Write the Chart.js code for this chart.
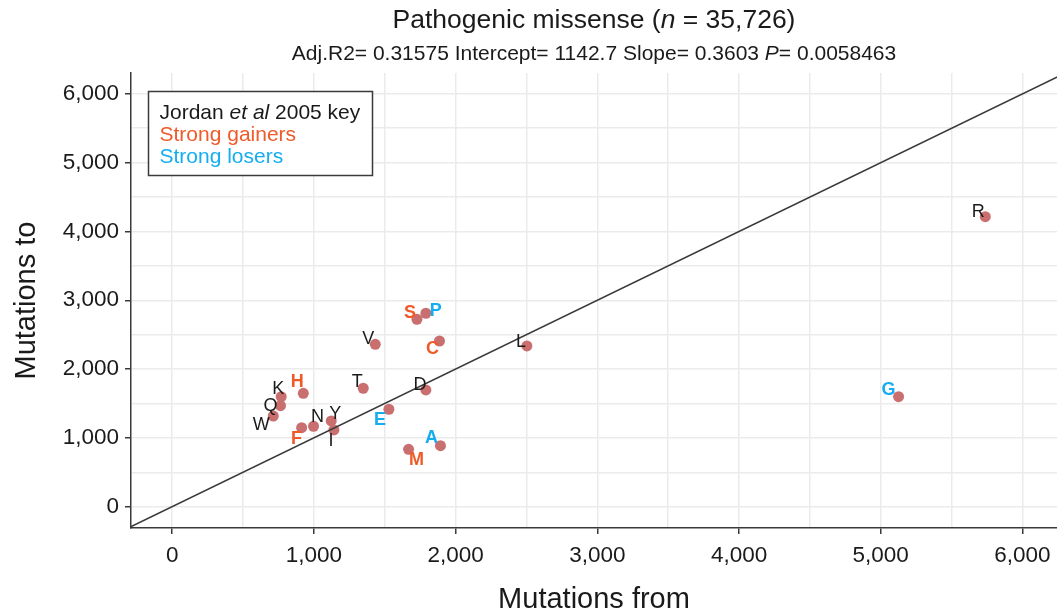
<!DOCTYPE html>
<html>
<head>
<meta charset="utf-8">
<script src="https://cdn.jsdelivr.net/npm/chart.js@4"></script>
<style>
  html, body { margin: 0; padding: 0; background: #fff; }
  canvas { display: block; }
</style>
</head>
<body>
<canvas id="chart" width="1057" height="615"></canvas>
<script>
// amino acids and their mutation counts
const aminoAcids    = ['A', 'C', 'D', 'E', 'F', 'G', 'H', 'I', 'K', 'L', 'M', 'N', 'P', 'Q', 'R', 'S', 'T', 'V', 'W', 'Y'];
const mutationsFrom = [1893, 1886, 1790, 1529, 913, 5126, 925, 1141, 769, 2503, 1668, 997, 1790, 764, 5738, 1727, 1348, 1433, 713, 1122];
const mutationsTo   = [887, 2408, 1696, 1416, 1148, 1599, 1648, 1115, 1599, 2336, 834, 1169, 2811, 1468, 4215, 2724, 1721, 2360, 1318, 1246];

// Jordan et al 2005 groups
const strongGainers = ['C', 'F', 'H', 'M', 'S'];
const strongLosers  = ['A', 'E', 'G', 'P'];

// axis ticks: labelled every 1000, grid every 500
const tickValues = [0, 1000, 2000, 3000, 4000, 5000, 6000];
const gridValues = [0, 500, 1000, 1500, 2000, 2500, 3000, 3500, 4000, 4500, 5000, 5500, 6000];

// y = x reference line ends
const diagonalEnds = [-400, 6400];

// label nudges in px (repel-style placement)
const labelNudge = {
    A: [-9, -9], C: [-7, 7], D: [-6, -6], E: [-9, 10], F: [-5, 10],
    G: [-10, -8], H: [-6, -12], I: [-3, 10], K: [-3, -9], L: [-6, -5],
    M: [8, 10], N: [4, -10], P: [10, -3], Q: [-10, -1], R: [-7, -6],
    S: [-7, -7], T: [-6, -7], V: [-7, -6], W: [-12, 8], Y: [4, -8]
};

const FONT = '"Liberation Sans", Arial, Helvetica, sans-serif';
const ORANGE = '#f05a28';
const BLUE = '#14aef0';
const INK = '#1a1a1a';
const AXIS = '#3a3a3a';

Chart.defaults.font.family = FONT;
Chart.defaults.color = INK;

function labelColor(aa) {
    if (strongGainers.includes(aa)) return ORANGE;
    if (strongLosers.includes(aa)) return BLUE;
    return INK;
}

// draw a line made of differently styled pieces
function drawRuns(ctx, runs, x, y, align) {
    let total = 0;
    runs.forEach(r => { ctx.font = r.font; r.w = ctx.measureText(r.text).width; total += r.w; });
    let cx = align === 'center' ? x - total / 2 : x;
    ctx.textBaseline = 'middle';
    ctx.textAlign = 'left';
    runs.forEach(r => {
        ctx.font = r.font;
        ctx.fillStyle = r.color || INK;
        ctx.fillText(r.text, cx, y);
        cx += r.w;
    });
}

const textPlugin = {
    id: 'textPlugin',
    afterDatasetsDraw(chart) {
        const ctx = chart.ctx;
        const area = chart.chartArea;
        const xs = chart.scales.x, ys = chart.scales.y;
        ctx.save();

        // point labels
        aminoAcids.forEach((aa, i) => {
            const px = xs.getPixelForValue(mutationsFrom[i]);
            const py = ys.getPixelForValue(mutationsTo[i]);
            const n = labelNudge[aa] || [-6, -6];
            const bold = strongGainers.includes(aa) || strongLosers.includes(aa);
            ctx.font = (bold ? 'bold ' : '') + '18px ' + FONT;
            ctx.fillStyle = labelColor(aa);
            ctx.textAlign = 'center';
            ctx.textBaseline = 'middle';
            ctx.fillText(aa, px + n[0], py + n[1] + 1);
        });

        // key box
        const bx = area.left + 17.5, by = area.top + 18.5;
        ctx.fillStyle = '#fff';
        ctx.fillRect(bx, by, 224, 84);
        ctx.strokeStyle = AXIS;
        ctx.lineWidth = 1.5;
        ctx.strokeRect(bx, by, 224, 84);
        const f = '21px ' + FONT, fi = 'italic 21px ' + FONT;
        drawRuns(ctx, [
            { text: 'Jordan ', font: f, color: INK },
            { text: 'et al', font: fi, color: INK },
            { text: ' 2005 key', font: f, color: INK }
        ], bx + 11, by + 22, 'left');
        drawRuns(ctx, [{ text: 'Strong gainers', font: f, color: ORANGE }], bx + 11, by + 44, 'left');
        drawRuns(ctx, [{ text: 'Strong losers', font: f, color: BLUE }], bx + 11, by + 66, 'left');

        // title and subtitle
        const mid = (area.left + area.right) / 2;
        const t = '26.5px ' + FONT, ti = 'italic 26.5px ' + FONT;
        drawRuns(ctx, [
            { text: 'Pathogenic missense (', font: t },
            { text: 'n', font: ti },
            { text: ' = 35,726)', font: t }
        ], mid, 21, 'center');
        const s = '21px ' + FONT, si = 'italic 21px ' + FONT;
        drawRuns(ctx, [
            { text: 'Adj.R2= 0.31575 Intercept= 1142.7 Slope= 0.3603 ', font: s },
            { text: 'P', font: si },
            { text: '= 0.0058463', font: s }
        ], mid, 54, 'center');
        ctx.restore();
    }
};

function tickMark(c) {
    return c.tick && c.tick.value % 1000 === 0 ? AXIS : 'rgba(0,0,0,0)';
}

function axisOptions(min, max, title) {
    return {
        type: 'linear',
        min: min,
        max: max,
        afterBuildTicks: scale => { scale.ticks = gridValues.map(v => ({ value: v })); },
        border: { display: true, color: AXIS, width: 1.5 },
        grid: { color: '#ebebeb', lineWidth: 1.5, tickLength: 6, tickColor: tickMark, tickWidth: 1.5 },
        ticks: {
            autoSkip: false,
            maxRotation: 0,
            padding: 6,
            color: INK,
            font: { size: 22.5 },
            callback: v => tickValues.includes(v) ? v.toLocaleString('en-US') : ''
        },
        title: { display: true, text: title, color: INK, font: { size: 29, lineHeight: 1 } }
    };
}

const xAxis = axisOptions(-291, 6244, 'Mutations from');
xAxis.afterFit = scale => { scale.height = 87; scale.paddingLeft = 0; scale.paddingRight = 0; };
xAxis.ticks.padding = 8;
xAxis.title.padding = { top: 0, bottom: 1 };

const yAxis = axisOptions(-310, 6303, 'Mutations to');
yAxis.afterFit = scale => { scale.width = 131; scale.paddingTop = 0; scale.paddingBottom = 0; };
yAxis.title.padding = { top: 12, bottom: 0 };

const points = aminoAcids.map((aa, i) => ({ x: mutationsFrom[i], y: mutationsTo[i] }));

new Chart(document.getElementById('chart').getContext('2d'), {
    type: 'scatter',
    data: {
        datasets: [
            {
                type: 'line',
                data: diagonalEnds.map(v => ({ x: v, y: v })),
                borderColor: AXIS,
                borderWidth: 1.6,
                pointRadius: 0,
                order: 0
            },
            {
                data: points,
                backgroundColor: '#c96f6f',
                borderWidth: 0,
                pointRadius: 5.5,
                order: 1
            }
        ]
    },
    options: {
        responsive: false,
        animation: false,
        layout: { autoPadding: false, padding: { top: 73, right: 0, bottom: 0, left: 0 } },
        plugins: { legend: { display: false }, tooltip: { enabled: false } },
        scales: { x: xAxis, y: yAxis }
    },
    plugins: [textPlugin]
});
</script>
</body>
</html>
